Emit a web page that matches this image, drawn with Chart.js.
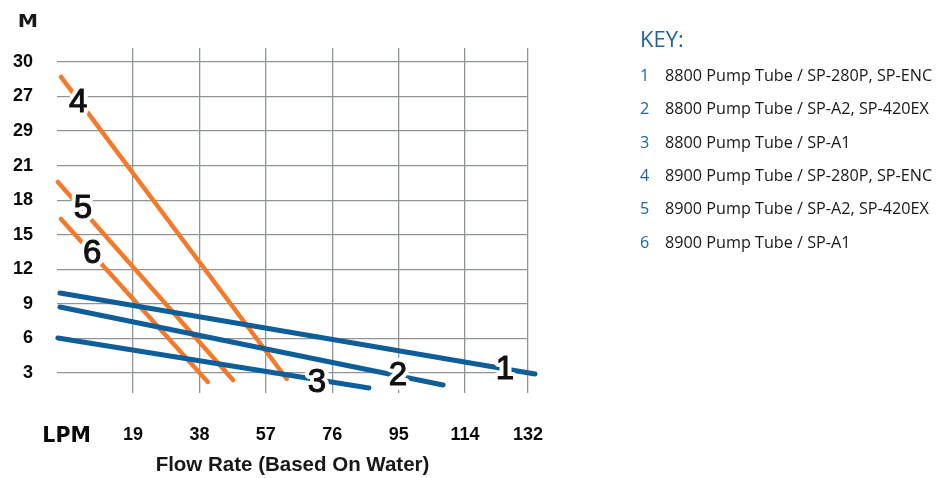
<!DOCTYPE html>
<html>
<head>
<meta charset="utf-8">
<script src="https://cdn.jsdelivr.net/npm/chart.js@4/dist/chart.umd.min.js"></script>
<style>
  html, body { margin: 0; padding: 0; background: #ffffff; }
  #wrap { position: relative; width: 937px; height: 478px; overflow: hidden; }
  #c { position: absolute; left: 0; top: 0; }
  #key { position: absolute; left: 640px; top: 0; font-family: "Open Sans", sans-serif; }
  #key .title { position: absolute; left: 0; top: 24px; font-size: 22px; line-height: 28px; color: #1c64a3; white-space: nowrap; }
  #key .row { position: absolute; left: 0; font-size: 16.2px; line-height: 20px; white-space: nowrap; color: #1a1718; }
  #key .num { position: absolute; left: 0; color: #1c64a3; }
  #key .txt { position: absolute; left: 25px; }
</style>
</head>
<body>
<div id="wrap">
  <canvas id="c" width="937" height="478"></canvas>
  <div id="key"></div>
</div>
<script>
// ---- data ----
const flowTicks = [0, 19, 38, 57, 76, 95, 114, 132];
const flowTickLabels = ['LPM', '19', '38', '57', '76', '95', '114', '132'];
const headTicks = [3, 6, 9, 12, 15, 18, 21, 24, 27, 30];
const headTickLabels = ['3', '6', '9', '12', '15', '18', '21', '29', '27', '30'];

const seriesNumbers = ['1', '2', '3', '4', '5', '6'];
const seriesNames = [
  '8800 Pump Tube / SP-280P, SP-ENC',
  '8800 Pump Tube / SP-A2, SP-420EX',
  '8800 Pump Tube / SP-A1',
  '8900 Pump Tube / SP-280P, SP-ENC',
  '8900 Pump Tube / SP-A2, SP-420EX',
  '8900 Pump Tube / SP-A1'
];

const series1Flow = [-1.9, 134.0];  const series1Head = [9.94, 2.91];
const series2Flow = [-1.9, 107.7];  const series2Head = [8.73, 1.96];
const series3Flow = [-2.5, 86.5];   const series3Head = [6.04, 1.70];
const series4Flow = [-1.6, 63.0];   const series4Head = [28.7, 2.48];
const series5Flow = [-2.5, 47.6];   const series5Head = [19.58, 2.39];
const series6Flow = [-1.6, 40.4];   const series6Head = [16.37, 2.22];

// where each curve's number sits (data coordinates)
const labelFlow = [125.4, 94.8, 71.6, 3.3, 4.7, 7.3];
const labelHead = [3.5, 3.0, 2.4, 26.7, 17.5, 13.6];

// ---- styles ----
const BLUE = '#0d5e99';
const ORANGE = '#f47a2a';
const GRID = '#8f9496';

function pts(xs, ys) { return xs.map((x, i) => ({ x: x, y: ys[i] })); }

const allFlow = [series1Flow, series2Flow, series3Flow, series4Flow, series5Flow, series6Flow];
const allHead = [series1Head, series2Head, series3Head, series4Head, series5Head, series6Head];

const datasets = allFlow.map((xs, i) => ({
  label: seriesNumbers[i] + ' ' + seriesNames[i],
  data: pts(xs, allHead[i]),
  showLine: true,
  borderColor: i < 3 ? BLUE : ORANGE,
  backgroundColor: i < 3 ? BLUE : ORANGE,
  borderWidth: i < 3 ? 5 : 4.5,
  borderCapStyle: 'round',
  pointRadius: 0,
  pointHoverRadius: 0,
  clip: false,
  tension: 0
}));

// curve number labels + "M" unit label
const labelPlugin = {
  id: 'curveLabels',
  afterDatasetsDraw(chart) {
    const ctx = chart.ctx;
    const xs = chart.scales.x, ys = chart.scales.y;
    ctx.save();
    ctx.font = '33px "Liberation Sans", Arial, sans-serif';
    ctx.textAlign = 'center';
    ctx.textBaseline = 'alphabetic';
    ctx.lineJoin = 'round';
    seriesNumbers.forEach((n, i) => {
      const px = xs.getPixelForValue(labelFlow[i]);
      const py = ys.getPixelForValue(labelHead[i]) + 12;
      ctx.strokeStyle = '#ffffff';
      ctx.lineWidth = 9;
      ctx.strokeText(n, px, py);
    });
    seriesNumbers.forEach((n, i) => {
      const px = xs.getPixelForValue(labelFlow[i]);
      const py = ys.getPixelForValue(labelHead[i]) + 12;
      ctx.fillStyle = '#111111';
      ctx.strokeStyle = '#111111';
      ctx.lineWidth = 1.1;
      ctx.fillText(n, px, py);
      ctx.strokeText(n, px, py);
    });
    // unit label above the head axis
    ctx.fillStyle = '#1a1718';
    ctx.font = 'bold 17px "DejaVu Sans", sans-serif';
    ctx.textAlign = 'center';
    ctx.textBaseline = 'alphabetic';
    ctx.translate(28, 27);
    ctx.scale(1.2, 1);
    ctx.fillText('M', 0, 0);
    ctx.restore();
  }
};

new Chart(document.getElementById('c'), {
  type: 'scatter',
  data: { datasets: datasets },
  options: {
    responsive: false,
    animation: false,
    events: [],
    layout: { padding: { top: 48, right: 409, left: 0, bottom: 0 } },
    plugins: { legend: { display: false }, tooltip: { enabled: false } },
    scales: {
      x: {
        type: 'linear',
        min: -2.75,
        max: 132,
        afterBuildTicks(scale) { scale.ticks = flowTicks.map(v => ({ value: v })); },
        afterFit(scale) { scale.height = 85; },
        border: { display: false },
        grid: {
          drawTicks: false,
          color: (c) => (c.tick && c.tick.value === 0) ? 'rgba(0,0,0,0)' : GRID,
          lineWidth: 1.3
        },
        ticks: {
          autoSkip: false,
          maxRotation: 0,
          padding: 31,
          color: '#0a0a0a',
          font: (c) => (c.tick && c.tick.value === 0)
            ? { family: '"DejaVu Sans", sans-serif', size: 20.5, weight: 'bold' }
            : { family: '"Liberation Sans", Arial, sans-serif', size: 18, weight: 'bold' },
          callback: (v) => flowTickLabels[flowTicks.indexOf(v)]
        },
        title: {
          display: true,
          text: 'Flow Rate (Based On Water)',
          color: '#1a1718',
          font: { family: '"Liberation Sans", Arial, sans-serif', size: 20.5, weight: 'bold' },
          padding: { top: 0, bottom: 0 }
        }
      },
      y: {
        type: 'linear',
        min: 1.264,
        max: 31.21,
        afterBuildTicks(scale) { scale.ticks = headTicks.map(v => ({ value: v })); },
        afterFit(scale) { scale.width = 57; },
        border: { display: false },
        grid: { drawTicks: false, color: GRID, lineWidth: 1.3 },
        ticks: {
          padding: 24,
          color: '#0a0a0a',
          font: { family: '"Liberation Sans", Arial, sans-serif', size: 18, weight: 'bold' },
          callback: (v) => headTickLabels[headTicks.indexOf(v)]
        }
      }
    }
  },
  plugins: [labelPlugin]
});

// key / legend
const key = document.getElementById('key');
const t = document.createElement('div');
t.className = 'title';
t.textContent = 'KEY:';
key.appendChild(t);
const rowCenters = [75, 108, 142, 175, 208, 242];
seriesNumbers.forEach((n, i) => {
  const r = document.createElement('div');
  r.className = 'row';
  r.style.top = (rowCenters[i] - 10) + 'px';
  const a = document.createElement('span'); a.className = 'num'; a.textContent = n;
  const b = document.createElement('span'); b.className = 'txt'; b.textContent = seriesNames[i];
  r.appendChild(a); r.appendChild(b);
  key.appendChild(r);
});
</script>
</body>
</html>
